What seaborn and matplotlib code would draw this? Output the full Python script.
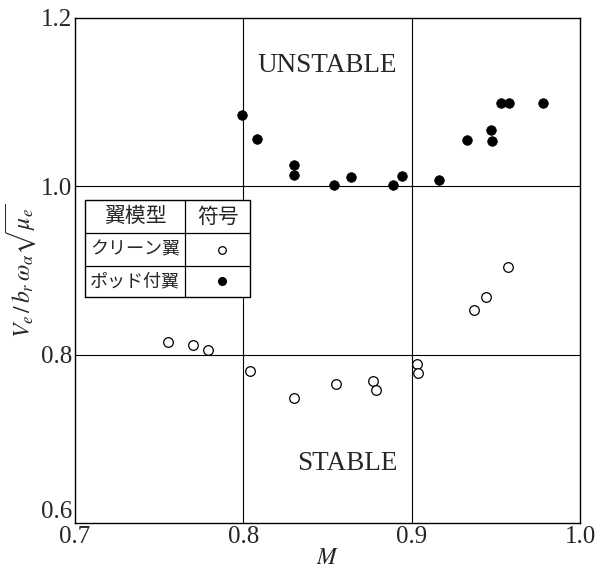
import numpy as np
import pandas as pd
import seaborn as sns
import matplotlib
matplotlib.use("Agg")
import matplotlib.pyplot as plt

# data
clean_M = [0.755, 0.770, 0.779, 0.804, 0.830, 0.855, 0.877, 0.879, 0.903, 0.904, 0.937, 0.944, 0.957]
clean_V = [0.815, 0.812, 0.805, 0.781, 0.749, 0.765, 0.769, 0.758, 0.789, 0.778, 0.853, 0.869, 0.904]
pod_M = [0.799, 0.808, 0.830, 0.830, 0.854, 0.864, 0.889, 0.894, 0.916, 0.933, 0.947, 0.948, 0.953, 0.958, 0.978]
pod_V = [1.085, 1.056, 1.025, 1.013, 1.002, 1.011, 1.002, 1.012, 1.008, 1.055, 1.067, 1.054, 1.099, 1.099, 1.099]
xticks = [0.7, 0.8, 0.9, 1.0]
yticks = [0.6, 0.8, 1.0, 1.2]
xgrid = [0.8, 0.9]
ygrid = [0.8, 1.0]
table_head = ["翼模型", "符号"]
table_rows = ["クリーン翼", "ポッド付翼"]

df = pd.concat([
    pd.DataFrame({"M": clean_M, "V": clean_V, "kind": "clean"}),
    pd.DataFrame({"M": pod_M, "V": pod_V, "kind": "pod"}),
])

sns.set_style("white")
plt.rcParams['font.family'] = ['Liberation Serif', 'Noto Sans CJK JP', 'DejaVu Sans']
plt.rcParams['mathtext.fontset'] = 'stix'

fig = plt.figure(figsize=(6.01, 5.69), dpi=100)
ax = fig.add_axes([75/601, 1-523/569, 505/601, 505/569])

for g in xgrid:
    ax.axvline(g, color='black', lw=0.8, zorder=1)
for g in ygrid:
    ax.axhline(g, color='black', lw=0.8, zorder=1)

sns.scatterplot(data=df[df.kind == "clean"], x="M", y="V", ax=ax, s=48,
                facecolor='white', edgecolor='black', linewidth=0.9, zorder=3)
sns.scatterplot(data=df[df.kind == "pod"], x="M", y="V", ax=ax, s=48,
                color='black', edgecolor='black', linewidth=0.5, zorder=3)

ax.set_xlim(0.7, 1.0)
ax.set_ylim(0.6, 1.2)
ax.set_xticks(xticks)
ax.set_yticks(yticks)
ax.set_xticklabels([f"{t:.1f}" for t in xticks], fontsize=18)
ax.set_yticklabels([f"{t:.1f}" for t in yticks], fontsize=18)
ax.tick_params(length=0, pad=2)
ax.get_yticklabels()[0].set_verticalalignment('bottom')
for sp in ax.spines.values():
    sp.set_color('black')
    sp.set_linewidth(1.0)

ax.set_xlabel("$M$", fontsize=17, labelpad=0)
ax.set_ylabel(r"$V_e\,/\,b_r\,\omega_\alpha\sqrt{\mu_e}$", fontsize=17, labelpad=2)

ax.text(0.85, 1.144, "UNSTABLE", fontsize=19.5, ha='center', va='center')
ax.text(0.862, 0.671, "STABLE", fontsize=19.5, ha='center', va='center')

# legend table drawn in axes coordinates
L, R, D = 0.020, 0.347, 0.218
T, H1, H2, B = 0.640, 0.574, 0.509, 0.4475
tr = ax.transAxes
ax.fill([L, R, R, L], [B, B, T, T], color='white', transform=tr, zorder=4)
ax.plot([L, R, R, L, L], [B, B, T, T, B], color='black', lw=1.0, transform=tr, zorder=5)
ax.plot([L, R], [H1, H1], color='black', lw=0.9, transform=tr, zorder=5)
ax.plot([L, R], [H2, H2], color='black', lw=0.9, transform=tr, zorder=5)
ax.plot([D, D], [B, T], color='black', lw=0.9, transform=tr, zorder=5)
jp = ['Noto Sans CJK JP', 'DejaVu Sans']
ax.text((L + D) / 2, (T + H1) / 2, table_head[0], family=jp, fontsize=15,
        ha='center', va='center', transform=tr, zorder=6)
ax.text((D + R) / 2, (T + H1) / 2, table_head[1], family=jp, fontsize=15,
        ha='center', va='center', transform=tr, zorder=6)
ax.text((L + D) / 2, (H1 + H2) / 2, table_rows[0], family=jp, fontsize=13,
        ha='center', va='center', transform=tr, zorder=6)
ax.text((L + D) / 2, (H2 + B) / 2, table_rows[1], family=jp, fontsize=13,
        ha='center', va='center', transform=tr, zorder=6)
ax.scatter([0.291], [(H1 + H2) / 2], s=30, facecolor='white', edgecolor='black',
           linewidth=0.9, transform=tr, zorder=6)
ax.scatter([0.291], [(H2 + B) / 2], s=30, color='black', transform=tr, zorder=6)

fig.savefig("out.png", dpi=100)
